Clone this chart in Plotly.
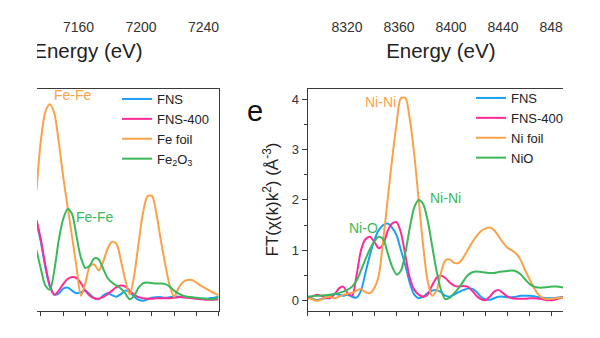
import plotly.graph_objects as go

# ---------------- data ----------------
# Fe K-edge FT-EXAFS, R (Å) from 1.9 to 6.0
r_fe = [1.9, 2.0, 2.1, 2.2, 2.3, 2.4, 2.5, 2.6, 2.7, 2.8, 2.9, 3.0, 3.1, 3.2,
        3.3, 3.4, 3.5, 3.6, 3.7, 3.8, 3.9, 4.0, 4.1, 4.2, 4.3, 4.4, 4.5, 4.6,
        4.7, 4.8, 4.9, 5.0, 5.1, 5.2, 5.3, 5.4, 5.5, 5.6, 5.7, 5.8, 5.9, 6.0]
fe_fns = [1.55, 1.15, 0.65, 0.28, 0.12, 0.14, 0.24, 0.26, 0.20, 0.15, 0.17, 0.20,
          0.13, 0.05, 0.03, 0.10, 0.15, 0.11, 0.08, 0.13, 0.20, 0.17, 0.08, 0.02,
          0.00, 0.03, 0.06, 0.07, 0.07, 0.06, 0.07, 0.08, 0.08, 0.07, 0.07, 0.06,
          0.05, 0.04, 0.04, 0.05, 0.06, 0.08]
fe_fns400 = [1.60, 1.20, 0.70, 0.30, 0.12, 0.20, 0.33, 0.43, 0.47, 0.45, 0.35, 0.20,
             0.10, 0.05, 0.04, 0.07, 0.13, 0.20, 0.27, 0.30, 0.28, 0.20, 0.12, 0.07,
             0.05, 0.04, 0.04, 0.05, 0.05, 0.05, 0.05, 0.06, 0.07, 0.07, 0.06, 0.05,
             0.04, 0.03, 0.02, 0.02, 0.02, 0.03]
fe_foil = [2.20, 3.20, 3.75, 3.90, 3.72, 3.15, 2.46, 1.86, 1.27, 0.67, 0.10, 0.35,
           0.68, 0.72, 0.60, 0.77, 1.03, 1.17, 1.13, 0.80, 0.41, 0.12, 0.50, 1.15,
           1.75, 2.07, 2.08, 1.73, 1.20, 0.72, 0.30, 0.08, 0.25, 0.37, 0.41, 0.41,
           0.36, 0.30, 0.25, 0.20, 0.15, 0.11]
fe_fe2o3 = [1.00, 0.62, 0.30, 0.22, 0.60, 1.20, 1.62, 1.82, 1.72, 1.28, 0.85, 0.65,
            0.70, 0.84, 0.82, 0.64, 0.45, 0.36, 0.30, 0.24, 0.14, 0.03, 0.10, 0.26,
            0.35, 0.36, 0.35, 0.34, 0.34, 0.33, 0.28, 0.20, 0.14, 0.10, 0.08, 0.07,
            0.06, 0.05, 0.04, 0.03, 0.03, 0.08]

# Ni K-edge FT-EXAFS, R (Å) from 0 to 5.8
r_ni = [0.0, 0.1, 0.2, 0.3, 0.4, 0.5, 0.6, 0.7, 0.8, 0.9, 1.0, 1.1, 1.2, 1.3,
        1.4, 1.5, 1.6, 1.7, 1.8, 1.9, 2.0, 2.1, 2.2, 2.3, 2.4, 2.5, 2.6, 2.7,
        2.8, 2.9, 3.0, 3.1, 3.2, 3.3, 3.4, 3.5, 3.6, 3.7, 3.8, 3.9, 4.0, 4.1,
        4.2, 4.3, 4.4, 4.5, 4.6, 4.7, 4.8, 4.9, 5.0, 5.1, 5.2, 5.3, 5.4, 5.5,
        5.6, 5.7, 5.8]
ni_fns = [0.08, 0.04, 0.01, 0.03, 0.05, 0.10, 0.14, 0.12, 0.10, 0.12, 0.08, 0.06,
          0.20, 0.55, 0.90, 1.20, 1.40, 1.50, 1.53, 1.45, 1.30, 1.00, 0.70, 0.35,
          0.12, 0.05, 0.08, 0.15, 0.20, 0.21, 0.17, 0.10, 0.08, 0.12, 0.17, 0.21,
          0.24, 0.24, 0.18, 0.08, 0.03, 0.02, 0.05, 0.08, 0.08, 0.07, 0.07, 0.08,
          0.10, 0.10, 0.10, 0.09, 0.07, 0.06, 0.05, 0.05, 0.06, 0.07, 0.08]
ni_fns400 = [0.05, 0.08, 0.12, 0.10, 0.06, 0.05, 0.12, 0.24, 0.28, 0.15, 0.10, 0.50,
             1.00, 1.22, 1.27, 1.17, 1.04, 1.12, 1.38, 1.53, 1.56, 1.35, 0.90, 0.45,
             0.22, 0.12, 0.08, 0.12, 0.30, 0.45, 0.50, 0.45, 0.36, 0.30, 0.28, 0.29,
             0.28, 0.20, 0.10, 0.03, 0.01, 0.08, 0.18, 0.21, 0.15, 0.08, 0.05, 0.04,
             0.04, 0.04, 0.05, 0.05, 0.04, 0.03, 0.01, 0.01, 0.03, 0.06, 0.08]
ni_foil = [0.05, 0.03, 0.00, 0.02, 0.07, 0.08, 0.05, 0.08, 0.12, 0.14, 0.16, 0.20,
           0.23, 0.17, 0.15, 0.25, 0.50, 1.20, 2.00, 2.80, 3.50, 4.02, 4.02, 3.60,
           2.90, 2.00, 1.10, 0.40, 0.10, 0.20, 0.55, 0.80, 0.82, 0.75, 0.75, 0.85,
           1.00, 1.15, 1.28, 1.38, 1.43, 1.45, 1.40, 1.28, 1.15, 1.05, 1.00, 0.93,
           0.80, 0.60, 0.42, 0.25, 0.12, 0.05, 0.03, 0.04, 0.05, 0.06, 0.07]
ni_nio = [0.08, 0.09, 0.10, 0.10, 0.11, 0.12, 0.13, 0.15, 0.18, 0.22, 0.28, 0.40,
          0.60, 0.82, 1.02, 1.18, 1.27, 1.22, 0.95, 0.68, 0.52, 0.60, 0.95, 1.45,
          1.85, 2.00, 1.92, 1.60, 1.10, 0.60, 0.22, 0.03, 0.06, 0.15, 0.25, 0.38,
          0.50, 0.56, 0.58, 0.57, 0.56, 0.55, 0.55, 0.57, 0.58, 0.59, 0.60, 0.58,
          0.52, 0.42, 0.33, 0.28, 0.26, 0.26, 0.27, 0.28, 0.28, 0.27, 0.25]

fe_names = ["FNS", "FNS-400", "Fe foil", "Fe<sub>2</sub>O<sub>3</sub>"]
ni_names = ["FNS", "FNS-400", "Ni foil", "NiO"]
colors = ["#1AA0F5", "#FF2A96", "#F9A24A", "#3BB85A"]

# tick labels of the XANES energy axes above the FT panels
fe_energy_ticks = [7160, 7200, 7240]
ni_energy_ticks = [8320, 8360, 8400, 8440, 8480]

FONT = "Liberation Sans, Arial, sans-serif"
AX = "#3a3a3a"
W, H = 600, 338


def px(x):
    return x / W


def py(y):
    return 1 - y / H


fig = go.Figure()

for ys, name, c in zip([fe_fns, fe_fns400, fe_foil, fe_fe2o3], fe_names, colors):
    fig.add_trace(go.Scatter(x=r_fe, y=ys, name=name, mode="lines",
                             line=dict(color=c, width=2, shape="spline", smoothing=0.8),
                             xaxis="x", yaxis="y", legend="legend"))

for ys, name, c in zip([ni_fns, ni_fns400, ni_foil, ni_nio], ni_names, colors):
    fig.add_trace(go.Scatter(x=r_ni, y=ys, name=name, mode="lines",
                             line=dict(color=c, width=2, shape="spline", smoothing=0.8),
                             xaxis="x2", yaxis="y2", legend="legend2"))

# energy-axis title of the Fe XANES panel, drawn inside its (clipped) strip
fig.add_trace(go.Scatter(x=[7166.0], y=[53], mode="text", text=["Energy (eV)"],
                         textfont=dict(family=FONT, size=20.5, color="#222"),
                         textposition="middle center", cliponaxis=True,
                         showlegend=False, hoverinfo="skip",
                         xaxis="x3", yaxis="y3"))
# empty trace so that the Ni energy axis gets its own subplot
fig.add_trace(go.Scatter(x=[], y=[], mode="lines", showlegend=False,
                         hoverinfo="skip", xaxis="x4", yaxis="y4"))

y_range = [-0.194, 4.21]
panel_y = [py(310.5), py(88.5)]

common_x = dict(showline=True, linecolor=AX, linewidth=1.2, mirror=True,
                ticks="outside", ticklen=4, tickwidth=1, tickcolor=AX,
                showticklabels=False, showgrid=False, zeroline=False,
                tick0=0, dtick=0.5)

fig.update_layout(
    width=W, height=H,
    margin=dict(l=0, r=0, t=0, b=0),
    paper_bgcolor="white", plot_bgcolor="white",
    font=dict(family=FONT, color="#222"),
    xaxis=dict(domain=[px(37), px(218.5)], range=[1.91, 6.0], anchor="y", **common_x),
    yaxis=dict(domain=panel_y, range=y_range, side="right", showline=True,
               linecolor=AX, linewidth=1.2, ticks="", showticklabels=False,
               showgrid=False, zeroline=False, anchor="x"),
    xaxis2=dict(domain=[px(307.7), px(563)], range=[0, 5.75], anchor="y2", **common_x),
    yaxis2=dict(domain=panel_y, range=y_range, anchor="x2", showline=True,
                linecolor=AX, linewidth=1.2, ticks="outside", ticklen=5,
                tickwidth=1, tickcolor=AX, tickvals=[0, 1, 2, 3, 4],
                minor=dict(dtick=0.5, tick0=0, ticks="outside", ticklen=3,
                           tickcolor=AX, tickwidth=1),
                tickfont=dict(size=13, color="#333"), showgrid=False, zeroline=False,
                title=dict(text="FT(χ(k)k<sup>2</sup>) (Å<sup>-3</sup>)",
                           font=dict(size=17, color="#222"), standoff=8)),
    xaxis3=dict(domain=[px(37), px(218.5)], range=[7133.4, 7249.6], anchor="free",
                position=py(17), showline=False, ticks="", tickvals=fe_energy_ticks,
                tickfont=dict(size=14, color="#333"), showgrid=False, zeroline=False),
    yaxis3=dict(domain=[py(64), 1], range=[64, 0], visible=False, anchor="x3"),
    xaxis4=dict(domain=[px(307.7), px(574)], range=[8289.8, 8494.6], anchor="y4",
                showline=False, ticks="", tickvals=ni_energy_ticks,
                tickfont=dict(size=14, color="#333"), showgrid=False, zeroline=False,
                title=dict(text="Energy (eV)", font=dict(size=20.5, color="#222"),
                           standoff=9)),
    yaxis4=dict(domain=[py(17), 1], range=[0, 1], visible=False, anchor="x4"),
    legend=dict(x=px(117), y=py(84), xanchor="left", yanchor="top",
                bgcolor="rgba(0,0,0,0)", font=dict(size=13, color="#222"),
                tracegroupgap=0),
    legend2=dict(x=px(471), y=py(83), xanchor="left", yanchor="top",
                 bgcolor="rgba(0,0,0,0)", font=dict(size=13, color="#222"),
                 tracegroupgap=0),
    showlegend=True,
)

# peak assignments
labels = [
    ("x", "y", 2.72, 4.09, "Fe-Fe", colors[2]),
    ("x", "y", 3.22, 1.66, "Fe-Fe", colors[3]),
    ("x2", "y2", 1.65, 3.95, "Ni-Ni", colors[2]),
    ("x2", "y2", 1.25, 1.44, "Ni-O", colors[3]),
    ("x2", "y2", 3.11, 2.04, "Ni-Ni", colors[3]),
]
for xr, yr, xv, yv, t, c in labels:
    fig.add_annotation(x=xv, y=yv, xref=xr, yref=yr, text=t, showarrow=False,
                       font=dict(size=14, color=c))

# panel letter
fig.add_annotation(x=px(255), y=py(93), xref="paper", yref="paper", text="e",
                   showarrow=False, font=dict(size=29, color="#111"))

# the figure is cut at the right edge of the Ni panel
fig.add_shape(type="rect", xref="paper", yref="paper", x0=px(563), x1=1,
              y0=py(45), y1=1, fillcolor="white", line=dict(width=0), layer="above")

fig.write_html("out.html")
